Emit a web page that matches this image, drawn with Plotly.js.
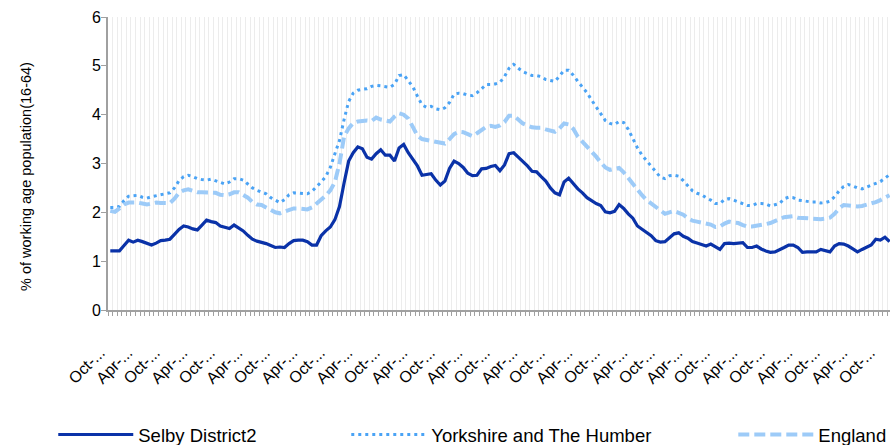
<!DOCTYPE html>
<html><head><meta charset="utf-8">
<script src="https://cdn.plot.ly/plotly-3.0.1.min.js"></script>
<style>html,body{margin:0;padding:0;background:#fff}</style>
</head><body><div id="chart" style="width:890px;height:445px"></div>
<script>
const monthNames = ["Jan","Feb","Mar","Apr","May","Jun","Jul","Aug","Sep","Oct","Nov","Dec"];
// Monthly categories, Oct-04 .. Dec-18
const categories = [];
for (let k = 0; k < 171; k++) {
  const m = (9 + k) % 12;
  const yy = 4 + Math.floor((9 + k) / 12);
  categories.push(monthNames[m] + "-" + String(yy).padStart(2, "0"));
}
// Truncated tick labels as shown in the chart
const tickLabels = categories.map(c => c.startsWith("Oct") ? "Oct-..." : (c.startsWith("Apr") ? "Apr-..." : ""));

const selby = [1.21,1.21,1.21,1.32,1.43,1.39,1.43,1.40,1.37,1.33,1.37,1.42,1.43,1.45,1.55,1.65,1.72,1.70,1.66,1.64,
1.74,1.84,1.81,1.79,1.72,1.69,1.67,1.74,1.68,1.62,1.53,1.45,1.41,1.39,1.36,1.32,1.28,1.29,1.28,1.36,
1.42,1.43,1.43,1.40,1.33,1.33,1.52,1.62,1.70,1.85,2.12,2.60,3.05,3.22,3.34,3.30,3.13,3.09,3.20,3.28,
3.17,3.17,3.05,3.32,3.39,3.22,3.08,2.95,2.76,2.77,2.79,2.66,2.56,2.64,2.90,3.05,3.00,2.92,2.80,2.75,
2.76,2.89,2.90,2.94,2.96,2.85,2.97,3.20,3.22,3.13,3.05,2.95,2.84,2.83,2.73,2.64,2.50,2.40,2.36,2.62,
2.70,2.58,2.48,2.40,2.30,2.24,2.18,2.14,2.01,1.99,2.02,2.16,2.08,1.97,1.88,1.72,1.65,1.60,1.52,1.42,
1.39,1.40,1.48,1.56,1.58,1.51,1.47,1.40,1.37,1.34,1.31,1.35,1.30,1.24,1.36,1.37,1.36,1.37,1.38,1.28,
1.28,1.31,1.25,1.21,1.18,1.19,1.23,1.28,1.33,1.33,1.28,1.18,1.19,1.19,1.19,1.24,1.21,1.19,1.31,1.36,
1.35,1.31,1.25,1.19,1.24,1.28,1.33,1.45,1.43,1.49,1.40];

const yorkshire = [2.10,2.10,2.12,2.24,2.33,2.34,2.35,2.31,2.29,2.32,2.34,2.36,2.37,2.40,2.50,2.65,2.73,2.76,2.73,2.69,
2.67,2.66,2.68,2.65,2.61,2.58,2.62,2.69,2.69,2.66,2.58,2.50,2.45,2.42,2.38,2.30,2.25,2.20,2.26,2.36,
2.40,2.39,2.39,2.38,2.43,2.52,2.62,2.73,2.92,3.20,3.47,3.90,4.27,4.44,4.50,4.52,4.53,4.58,4.60,4.59,
4.57,4.56,4.62,4.80,4.82,4.70,4.57,4.38,4.20,4.15,4.17,4.12,4.10,4.14,4.25,4.42,4.44,4.43,4.40,4.39,
4.45,4.53,4.62,4.62,4.63,4.66,4.78,4.95,5.03,4.95,4.88,4.84,4.80,4.80,4.78,4.72,4.70,4.68,4.79,4.91,
4.91,4.81,4.68,4.56,4.45,4.30,4.16,4.00,3.88,3.82,3.80,3.86,3.84,3.70,3.50,3.32,3.17,3.06,2.93,2.82,
2.72,2.69,2.75,2.76,2.74,2.65,2.55,2.44,2.39,2.36,2.30,2.25,2.18,2.18,2.26,2.28,2.25,2.21,2.18,2.14,
2.14,2.18,2.18,2.17,2.13,2.15,2.18,2.28,2.31,2.30,2.25,2.24,2.22,2.21,2.21,2.19,2.20,2.23,2.32,2.44,
2.53,2.57,2.54,2.50,2.48,2.52,2.56,2.59,2.63,2.70,2.77];

const england = [2.03,2.01,2.08,2.16,2.20,2.21,2.20,2.18,2.16,2.18,2.20,2.19,2.19,2.19,2.28,2.40,2.45,2.47,2.44,2.41,
2.41,2.41,2.41,2.40,2.36,2.35,2.37,2.41,2.41,2.36,2.30,2.21,2.16,2.15,2.10,2.05,2.00,1.98,2.02,2.06,
2.08,2.08,2.07,2.06,2.10,2.18,2.26,2.34,2.45,2.62,3.00,3.55,3.72,3.83,3.86,3.88,3.88,3.87,3.94,3.90,
3.88,3.86,3.96,4.03,4.00,3.92,3.75,3.57,3.50,3.48,3.47,3.45,3.43,3.41,3.50,3.60,3.65,3.64,3.60,3.56,
3.62,3.69,3.75,3.77,3.75,3.78,3.85,3.98,3.98,3.90,3.82,3.78,3.74,3.73,3.73,3.70,3.67,3.65,3.72,3.82,
3.80,3.71,3.55,3.45,3.34,3.25,3.14,3.02,2.92,2.87,2.89,2.91,2.82,2.70,2.57,2.45,2.35,2.25,2.18,2.10,
2.02,1.97,2.00,2.03,1.99,1.95,1.88,1.83,1.81,1.79,1.78,1.75,1.70,1.71,1.77,1.81,1.79,1.78,1.74,1.71,
1.71,1.72,1.74,1.76,1.78,1.81,1.86,1.90,1.92,1.92,1.89,1.88,1.87,1.86,1.86,1.86,1.87,1.89,1.97,2.08,
2.15,2.14,2.12,2.12,2.13,2.15,2.18,2.21,2.25,2.30,2.35];

const yTitle = "% of working age population(16-64)";
const font = "Arial, 'Liberation Sans', sans-serif";
const traces = [
  {x: categories, y: selby, name: "Selby District2", type: "scatter", mode: "lines", legend: "legend",
   line: {color: "#0a32a8", width: 3.2}},
  {x: categories, y: yorkshire, name: "Yorkshire and The Humber", type: "scatter", mode: "lines", legend: "legend2",
   line: {color: "#4aa3f5", width: 3, dash: "3px,4px"}},
  {x: categories, y: england, name: "England", type: "scatter", mode: "lines", legend: "legend3",
   line: {color: "#9dcbf8", width: 4, dash: "11px,5px"}}
];
const legendBase = {orientation: "h", xanchor: "left", y: -0.4266, yanchor: "middle",
  font: {size: 18.5, family: font, color: "#000"}, itemwidth: 75, itemclick: false, bgcolor: "rgba(0,0,0,0)"};
const layout = {
  width: 890, height: 445,
  margin: {l: 108, r: 0, t: 17, b: 135, autoexpand: false},
  paper_bgcolor: "#fff", plot_bgcolor: "#fff",
  font: {family: font, size: 14, color: "#000"},
  showlegend: true,
  legend: Object.assign({}, legendBase, {x: -0.07}),
  legend2: Object.assign({}, legendBase, {x: 0.3047}),
  legend3: Object.assign({}, legendBase, {x: 0.7996}),
  xaxis: {
    type: "category", range: [-0.5, 170.1],
    tickmode: "array", tickvals: categories, ticktext: tickLabels,
    tickson: "boundaries", ticks: "outside", ticklen: 4, tickcolor: "#a0a0a0", tickwidth: 1,
    tickangle: -45, tickfont: {size: 16, family: font, color: "#000"},
    ticklabelstandoff: 25, ticklabelshift: -10,
    showgrid: true, gridcolor: "#ececec", gridwidth: 1,
    showline: true, linecolor: "#a0a0a0", linewidth: 2, zeroline: false, automargin: false
  },
  yaxis: {
    range: [0, 6], tickmode: "linear", tick0: 0, dtick: 1,
    ticks: "outside", ticklen: 5, tickcolor: "#a0a0a0", tickwidth: 1,
    tickfont: {size: 16, family: font, color: "#000"}, ticklabelstandoff: -3,
    showgrid: false, zeroline: false, showline: true, linecolor: "#a0a0a0", linewidth: 2,
    automargin: false
  },
  annotations: [{
    text: yTitle, textangle: -90, xref: "paper", yref: "paper",
    x: -0.105, y: 0.457, xanchor: "center", yanchor: "middle", showarrow: false,
    font: {size: 14.5, family: font, color: "#000"}
  }]
};
Plotly.newPlot("chart", traces, layout, {displayModeBar: false, staticPlot: true});
</script></body></html>
